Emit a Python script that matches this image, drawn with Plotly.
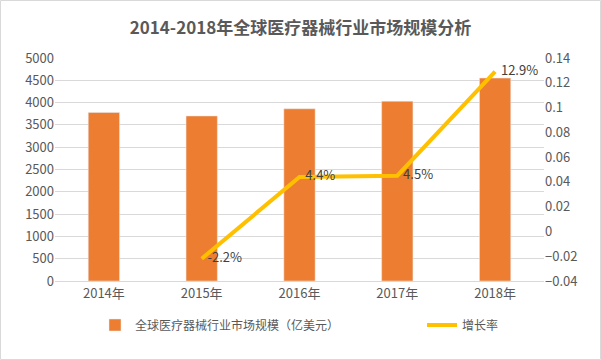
import plotly.graph_objects as go

years = ["2014年", "2015年", "2016年", "2017年", "2018年"]
market_size = [3780, 3700, 3860, 4030, 4550]
growth = [None, -0.022, 0.044, 0.045, 0.129]
growth_labels = ["", "  -2.2%", "  4.4%", "  4.5%", "  12.9%"]

font_family = "Noto Sans CJK SC, Microsoft YaHei, sans-serif"
grey = "#595959"

fig = go.Figure()
fig.add_trace(go.Bar(
    x=years, y=market_size,
    name="全球医疗器械行业市场规模（亿美元）" + "\u3000" * 7,
    marker_color="#ED7D31", width=0.32, yaxis="y",
))
fig.add_trace(go.Scatter(
    x=years, y=growth, name="增长率", mode="lines+text",
    line=dict(color="#FFC000", width=4),
    text=growth_labels, textposition="middle right",
    textfont=dict(color="#404040", size=13, family=font_family),
    yaxis="y2", cliponaxis=False,
))

fig.update_layout(
    width=601, height=360,
    margin=dict(l=55, r=57, t=58, b=79, autoexpand=False),
    paper_bgcolor="white", plot_bgcolor="white",
    font=dict(family=font_family, color=grey, size=13),
    title=dict(text="<b>2014-2018年全球医疗器械行业市场规模分析</b>",
               x=0.5, xanchor="center", y=1 - 28/360, yanchor="middle",
               font=dict(size=17, color=grey, family=font_family)),
    xaxis=dict(showgrid=False, showline=True, linecolor="#D9D9D9",
               ticks="", tickfont=dict(size=13, color=grey)),
    yaxis=dict(range=[0, 5000], dtick=500, showgrid=True, gridcolor="#D9D9D9",
               zeroline=False, tickfont=dict(size=13, color=grey)),
    yaxis2=dict(range=[-0.04, 0.14], dtick=0.02, overlaying="y", side="right",
                showgrid=False, zeroline=False, tickformat="~g",
                tickfont=dict(size=13, color=grey)),
    legend=dict(orientation="h", x=0.5, xanchor="center", y=-44/223, yanchor="middle",
                font=dict(size=12, color=grey), itemwidth=30),
    showlegend=True,
)
fig.add_shape(type="rect", xref="paper", yref="paper", x0=-54.5/489, x1=1+56.5/489,
              y0=-78.5/223, y1=1+57.5/223, line=dict(color="#D9D9D9", width=1))

fig.write_html("out.html", post_script="document.body.style.margin='0';",
               config={"displayModeBar": False})
